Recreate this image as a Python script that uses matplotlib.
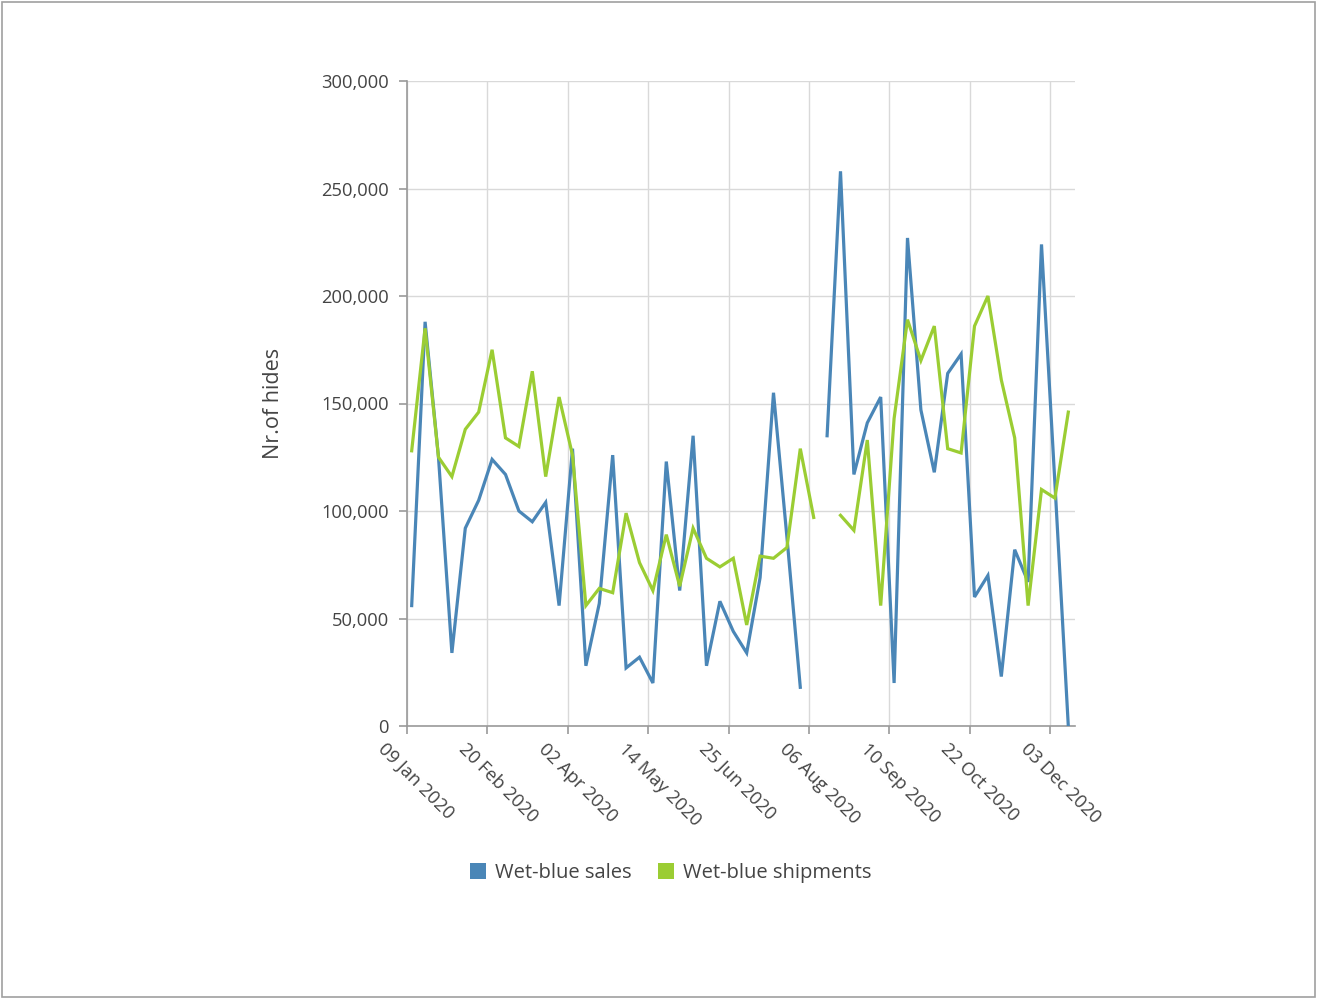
import matplotlib
matplotlib.use("Agg")
import matplotlib.pyplot as plt
import matplotlib.transforms as mtransforms
from matplotlib.patches import Patch, Rectangle
import numpy as np

plt.rcParams['font.family'] = ['Open Sans', 'DejaVu Sans']

# ---- data (weekly, 50 categories) ----
tick_labels = ["09 Jan 2020", "20 Feb 2020", "02 Apr 2020", "14 May 2020", "25 Jun 2020",
               "06 Aug 2020", "10 Sep 2020", "22 Oct 2020", "03 Dec 2020"]
tick_every = 6
n_weeks = 50

sales = [56, 188, 125, 34, 92, 105, 124, 117, 100, 95,
         104, 56, 129, 28, 57, 126, 27, 32, 20, 123,
         63, 135, 28, 58, 44, 34, 69, 155, 88, 18,
         None, 135, 258, 117, 141, 153, 20, 227, 147, 118,
         164, 173, 60, 70, 23, 82, 67, 224, 113, 0]
shipments = [128, 185, 125, 116, 138, 146, 175, 134, 130, 165,
             116, 153, 126, 56, 64, 62, 99, 76, 63, 89,
             65, 92, 78, 74, 78, 47, 79, 78, 83, 129,
             97, None, 98, 91, 133, 56, 143, 189, 170, 186,
             129, 127, 186, 200, 161, 134, 56, 110, 106, 146]

series_names = ["Wet-blue sales", "Wet-blue shipments"]
colors = ["#4a86b7", "#9bcd33"]
text_color = "#444444"

# ---- figure ----
W, H = 1317, 999
DPI = 100
fig = plt.figure(figsize=(W / DPI, H / DPI), dpi=DPI)
fig.patches.append(Rectangle((0.0015, 0.002), 0.997, 0.996, transform=fig.transFigure,
                             fill=False, edgecolor="#a0a0a0", linewidth=1.2))

left, right, top, bottom = 407, 1075, 81, 726
ax = fig.add_axes([left / W, 1 - bottom / H, (right - left) / W, (bottom - top) / H])

x = np.arange(n_weeks)
def to_arr(v):
    return np.array([np.nan if a is None else a * 1000.0 for a in v])

ax.plot(x, to_arr(sales), color=colors[0], lw=2.3, solid_joinstyle="miter", zorder=3)
ax.plot(x, to_arr(shipments), color=colors[1], lw=2.3, solid_joinstyle="miter", zorder=3)

ax.set_xlim(-0.35, 49.5)
ax.set_ylim(0, 300000)

yt = np.arange(0, 300001, 50000)
ax.set_yticks(yt)
ax.set_yticklabels([f"{int(v):,}" for v in yt], fontsize=13.2, color=text_color)

tick_pos = np.arange(0, n_weeks, tick_every)[:len(tick_labels)] - 0.35
ax.set_xticks(tick_pos)
ax.set_xticklabels([])

ax.grid(True, color="#d9d9d9", linewidth=1.0)
ax.set_axisbelow(True)
for s in ["top", "right"]:
    ax.spines[s].set_visible(False)
for s in ["left", "bottom"]:
    ax.spines[s].set_color("#9a9a9a")
    ax.spines[s].set_linewidth(1.2)
ax.tick_params(axis="both", direction="out", length=6, width=1.2, color="#9a9a9a", pad=7)

# rotated x labels
base = mtransforms.blended_transform_factory(ax.transData, ax.transAxes)
off = mtransforms.ScaledTranslation(-20 / DPI, -14 / DPI, fig.dpi_scale_trans)
for pos, lab in zip(tick_pos, tick_labels):
    ax.text(pos, 0, lab, transform=base + off, rotation=-45, rotation_mode="anchor",
            ha="left", va="top", fontsize=13.2, color=text_color, clip_on=False)

ax.set_ylabel("Nr.of hides", fontsize=15.5, color=text_color, labelpad=27)

handles = [Patch(facecolor=c, edgecolor="none") for c in colors]
fig.legend(handles, series_names, loc="center", bbox_to_anchor=(671 / W, 1 - 873 / H),
           ncol=2, frameon=False, fontsize=14.5, handlelength=0.8, handleheight=0.8,
           handletextpad=0.45, columnspacing=1.3, labelcolor=text_color)

fig.savefig("out.png", dpi=DPI, facecolor="white")
